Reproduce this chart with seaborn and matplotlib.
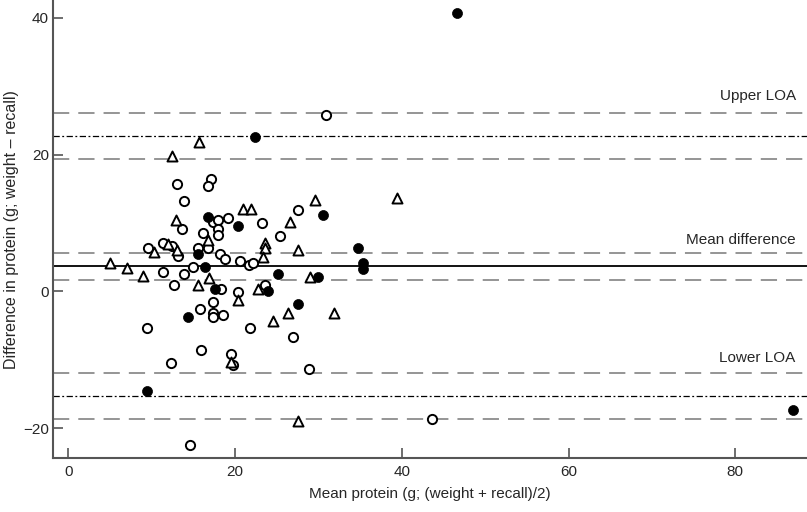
import numpy as np
import pandas as pd
import seaborn as sb
import matplotlib
matplotlib.use("Agg")
import matplotlib.pyplot as plt

# open circles
circle_x = [13.1, 17.1, 16.8, 13.9, 17.4, 18.0, 19.2, 13.7, 17.9, 18.0, 16.2, 23.2,
            9.6, 11.4, 12.5, 13.2, 15.5, 16.8, 18.2, 18.8, 20.6, 21.7, 22.2, 15.0,
            11.4, 13.9, 12.7, 18.3, 20.4, 17.4, 15.8, 17.4, 17.4, 18.5, 9.4, 21.8,
            15.9, 12.3, 19.5, 19.8, 27.6, 25.4, 23.6, 27.0, 28.9, 30.9, 43.6, 14.6]
circle_y = [15.7, 16.4, 15.4, 13.2, 10.2, 10.4, 10.7, 9.1, 9.1, 8.3, 8.5, 10.0,
            6.3, 7.0, 6.7, 5.1, 6.4, 6.3, 5.4, 4.8, 4.4, 3.8, 4.2, 3.5,
            2.8, 2.6, 1.0, 0.3, -0.1, -1.5, -2.6, -3.2, -3.7, -3.4, -5.3, -5.4,
            -8.6, -10.5, -9.2, -10.7, 11.9, 8.1, 0.9, -6.7, -11.4, 25.8, -18.7, -22.4]

# open triangles
tri_x = [15.7, 12.5, 12.9, 20.9, 21.9, 16.7, 12.0, 10.3, 13.1, 5.0, 7.0, 9.0,
         16.9, 15.6, 22.7, 20.4, 19.5, 23.6, 23.6, 26.6, 29.6, 39.4, 27.6, 23.3,
         29.0, 26.3, 24.6, 31.9, 27.6]
tri_y = [21.8, 19.8, 10.5, 12.0, 12.0, 7.5, 6.9, 5.7, 6.0, 4.1, 3.4, 2.3,
         2.0, 0.9, 0.4, -1.2, -10.3, 7.0, 6.4, 10.2, 13.3, 13.6, 6.1, 5.0,
         2.1, -3.2, -4.4, -3.1, -19.0]

# filled circles
dot_x = [46.6, 22.4, 16.8, 20.3, 15.5, 16.4, 30.5, 34.7, 35.3, 35.3, 25.2, 29.9,
         17.6, 23.9, 14.3, 27.5, 9.4, 86.9]
dot_y = [40.7, 22.5, 10.8, 9.5, 5.4, 3.5, 11.1, 6.4, 4.1, 3.2, 2.5, 2.1,
         0.3, 0.1, -3.7, -1.8, -14.6, -17.3]

# agreement lines
mean_diff = 3.7
mean_ci = [1.6, 5.6]
upper_loa = 22.7
upper_ci = [19.3, 26.1]
lower_loa = -15.3
lower_ci = [-18.7, -11.9]

sb.set_style("ticks")
plt.rcParams['font.family'] = ['Liberation Sans', 'DejaVu Sans']

fig = plt.figure(figsize=(8.07, 5.12), dpi=100)
ax = fig.add_axes([0.066, 0.105, 0.934, 0.895])

grey = "#8c8c8c"
for y in upper_ci + mean_ci + lower_ci:
    ax.axhline(y, color=grey, lw=1.3, dashes=(9, 5), zorder=1)
ax.axhline(mean_diff, color="black", lw=1.3, zorder=1)
for y in [upper_loa, lower_loa]:
    ax.axhline(y, color="black", lw=0.9, dashes=(5, 2, 1.5, 2), zorder=1)

sb.scatterplot(x=circle_x, y=circle_y, ax=ax, marker="o", s=44,
               facecolor="white", edgecolor="black", linewidth=1.4, zorder=3)
sb.scatterplot(x=tri_x, y=tri_y, ax=ax, marker="^", s=52,
               facecolor="white", edgecolor="black", linewidth=1.4, zorder=3)
sb.scatterplot(x=dot_x, y=dot_y, ax=ax, marker="o", s=52,
               color="black", edgecolor="black", linewidth=0.5, zorder=4)

fs = 11
trans = ax.get_yaxis_transform()
ax.text(0.985, 28.5, "Upper LOA", transform=trans, ha="right", va="center", fontsize=fs)
ax.text(0.985, 7.5, "Mean difference", transform=trans, ha="right", va="center", fontsize=fs)
ax.text(0.985, -9.7, "Lower LOA", transform=trans, ha="right", va="center", fontsize=fs)

ax.set_xlim(-1.8, 88.6)
ax.set_ylim(-24.4, 42.6)
ax.set_xticks([0, 20, 40, 60, 80])
ax.set_yticks([-20, 0, 20, 40])
ax.set_yticklabels(["\u221220", "0", "20", "40"])
ax.tick_params(direction="in", length=7, width=1.2, color="#555555", labelsize=fs, pad=5)
ax.tick_params(axis="y", pad=3)
ax.set_xlabel("Mean protein (g; (weight + recall)/2)", fontsize=fs)
ax.set_ylabel("Difference in protein (g; weight \u2013 recall)", fontsize=11.5)
ax.xaxis.set_label_coords(0.5, -0.062)
ax.yaxis.set_label_coords(-0.046, 0.5)
for side in ["top", "right"]:
    ax.spines[side].set_visible(False)
for side in ["left", "bottom"]:
    ax.spines[side].set_color("#555555")
    ax.spines[side].set_linewidth(1.5)

fig.savefig("out.png", dpi=100)
